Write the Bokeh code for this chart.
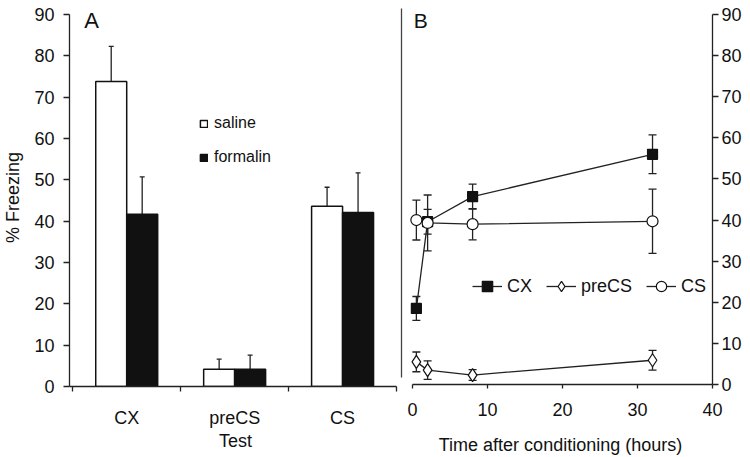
import numpy as np
from bokeh.plotting import figure
from bokeh.models import (Range1d, LinearAxis, FixedTicker, Legend, LegendItem, Label)
from bokeh.layouts import row
from bokeh.embed import file_html
from bokeh.resources import INLINE

# ---------------- data ----------------
tests = ["CX", "preCS", "CS"]
saline_mean = [73.8, 4.2, 43.6]
saline_sem = [8.5, 2.4, 4.6]
formalin_mean = [41.7, 4.2, 42.1]
formalin_sem = [9.0, 3.4, 9.6]

hours = [0.5, 2, 8, 32]
cx_mean = [18.5, 39.6, 45.7, 56.0]
cx_sem = [2.9, 3.0, 3.05, 4.7]
precs_mean = [5.5, 3.5, 2.3, 5.9]
precs_sem = [2.4, 2.25, 1.3, 2.4]
cs_mean = [40.0, 39.3, 39.0, 39.7]
cs_sem = [4.85, 6.8, 3.8, 7.8]

y_ticks = [0, 10, 20, 30, 40, 50, 60, 70, 80, 90]
hour_ticks = [0, 10, 20, 30, 40]

FONT = "Liberation Sans"
INK = "#111111"
LINE = "#222222"


def style_axis(ax, size="18px"):
    ax.major_label_text_font = FONT
    ax.major_label_text_font_size = size
    ax.major_label_text_color = INK
    ax.axis_label_text_font = FONT
    ax.axis_label_text_font_size = size
    ax.axis_label_text_font_style = "normal"
    ax.axis_label_text_color = INK
    ax.axis_line_color = LINE
    ax.axis_line_width = 1.3
    ax.major_tick_line_color = LINE
    ax.major_tick_line_width = 1.3
    ax.minor_tick_line_color = LINE
    ax.minor_tick_line_width = 1.3
    ax.major_tick_in = 0
    ax.minor_tick_in = 0
    ax.minor_tick_out = 0


# ---------------- panel A ----------------
pA = figure(frame_width=332, frame_height=378,
            x_range=Range1d(-0.03, 3.046), y_range=Range1d(0, 91.45),
            output_backend="svg", toolbar_location=None,
            min_border_left=62, min_border_right=3, min_border_top=8,
            min_border_bottom=50)
pA.outline_line_color = None
pA.grid.visible = False

centers = np.arange(len(tests)) + 0.5
bw = 0.287
xs_sal = centers - bw / 2
xs_for = centers + bw / 2

sal_top = np.array(saline_mean) + np.array(saline_sem)
for_top = np.array(formalin_mean) + np.array(formalin_sem)

pA.segment(x0=xs_sal, y0=saline_mean, x1=xs_sal, y1=sal_top, line_color=LINE, line_width=1.3)
pA.segment(x0=xs_for, y0=formalin_mean, x1=xs_for, y1=for_top, line_color=LINE, line_width=1.3)
pA.scatter(x=xs_sal, y=sal_top, marker="dash", size=5, line_color=LINE, line_width=1.3)
pA.scatter(x=xs_for, y=for_top, marker="dash", size=5, line_color=LINE, line_width=1.3)

r_sal = pA.vbar(x=xs_sal, top=saline_mean, width=bw, fill_color="white",
                line_color=INK, line_width=1.5)
r_for = pA.vbar(x=xs_for, top=formalin_mean, width=bw, fill_color=INK,
                line_color=INK, line_width=1.5)

xa = pA.xaxis[0]
style_axis(xa)
xa.ticker = FixedTicker(ticks=list(centers), minor_ticks=[0, 1, 2, 3])
xa.major_label_overrides = {float(c): t for c, t in zip(centers, tests)}
xa.major_tick_out = 0
xa.minor_tick_out = 5
xa.bounds = (-0.03, 3)
xa.major_label_standoff = 16
xa.axis_label = "Test"
xa.axis_label_standoff = 0

ya = pA.yaxis[0]
style_axis(ya)
ya.ticker = FixedTicker(ticks=y_ticks)
ya.bounds = (0, 90)
ya.major_tick_out = 6
ya.major_label_standoff = 9
ya.axis_label = "% Freezing"
ya.axis_label_standoff = 8

divider = LinearAxis(ticker=FixedTicker(ticks=[]), bounds=(2.2, 91.45))
style_axis(divider)
divider.axis_line_color = "#444444"
divider.major_tick_out = 0
divider.major_label_text_font_size = "0px"
pA.add_layout(divider, "right")

legA = Legend(items=[LegendItem(label="saline", renderers=[r_sal]),
                     LegendItem(label="formalin", renderers=[r_for])],
              location=(130, 220), orientation="vertical",
              glyph_width=9, glyph_height=9, label_standoff=6, spacing=16,
              padding=0, margin=0, border_line_color=None,
              background_fill_alpha=0, label_text_font=FONT,
              label_text_font_size="16px", label_text_color=INK)
pA.add_layout(legA)

pA.add_layout(Label(x=0.174, y=88.55, text="A", text_font=FONT,
                    text_font_size="22px", text_color=INK,
                    text_align="center", text_baseline="middle"))

# ---------------- panel B ----------------
pB = figure(frame_width=304, frame_height=376,
            x_range=Range1d(-0.55, 40), y_range=Range1d(0, 91.46),
            y_axis_location="right",
            output_backend="svg", toolbar_location=None,
            min_border_left=4, min_border_right=29, min_border_top=8,
            min_border_bottom=50)
pB.outline_line_color = None
pB.grid.visible = False


def errbars(p, x, m, s):
    lo = np.array(m) - np.array(s)
    hi = np.array(m) + np.array(s)
    p.segment(x0=x, y0=lo, x1=x, y1=hi, line_color=LINE, line_width=1.3)
    p.scatter(x=x, y=lo, marker="dash", size=8, line_color=LINE, line_width=1.3)
    p.scatter(x=x, y=hi, marker="dash", size=8, line_color=LINE, line_width=1.3)


l_cx = pB.line(hours, cx_mean, line_color=LINE, line_width=1.3)
l_pre = pB.line(hours, precs_mean, line_color=LINE, line_width=1.3)
l_cs = pB.line(hours, cs_mean, line_color=LINE, line_width=1.3)
errbars(pB, hours, cx_mean, cx_sem)
errbars(pB, hours, precs_mean, precs_sem)
errbars(pB, hours, cs_mean, cs_sem)

m_cx = pB.scatter(hours, cx_mean, marker="square", size=10, fill_color=INK,
                  line_color=INK, line_width=1.2)
m_pre = pB.scatter(hours, precs_mean, marker="diamond", size=13,
                   fill_color="white", line_color=INK, line_width=1.2)
m_cs = pB.scatter(hours, cs_mean, marker="circle", size=11, fill_color="white",
                  line_color=INK, line_width=1.2)

bx = pB.xaxis[0]
style_axis(bx)
bx.ticker = FixedTicker(ticks=hour_ticks)
bx.bounds = (0, 40)
bx.major_tick_out = 4
bx.major_label_standoff = 14
bx.axis_label = "Time after conditioning (hours)"
bx.axis_label_standoff = 16

by = pB.yaxis[0]
style_axis(by)
by.ticker = FixedTicker(ticks=y_ticks)
by.bounds = (0, 90)
by.major_tick_out = 6
by.major_label_standoff = 3

legB = Legend(items=[LegendItem(label="CX", renderers=[l_cx, m_cx]),
                     LegendItem(label="preCS", renderers=[l_pre, m_pre]),
                     LegendItem(label="CS", renderers=[l_cs, m_cs])],
              location=(64, 85), orientation="horizontal",
              glyph_width=30, glyph_height=26, label_standoff=5, spacing=14,
              padding=0, margin=0, border_line_color=None,
              background_fill_alpha=0, label_text_font=FONT,
              label_text_font_size="18px", label_text_color=INK)
pB.add_layout(legB)

pB.add_layout(Label(x=1.07, y=88.5, text="B", text_font=FONT,
                    text_font_size="21px", text_color=INK,
                    text_align="center", text_baseline="middle"))

layout = row(pA, pB)
open("out.html", "w").write(file_html(layout, INLINE))
